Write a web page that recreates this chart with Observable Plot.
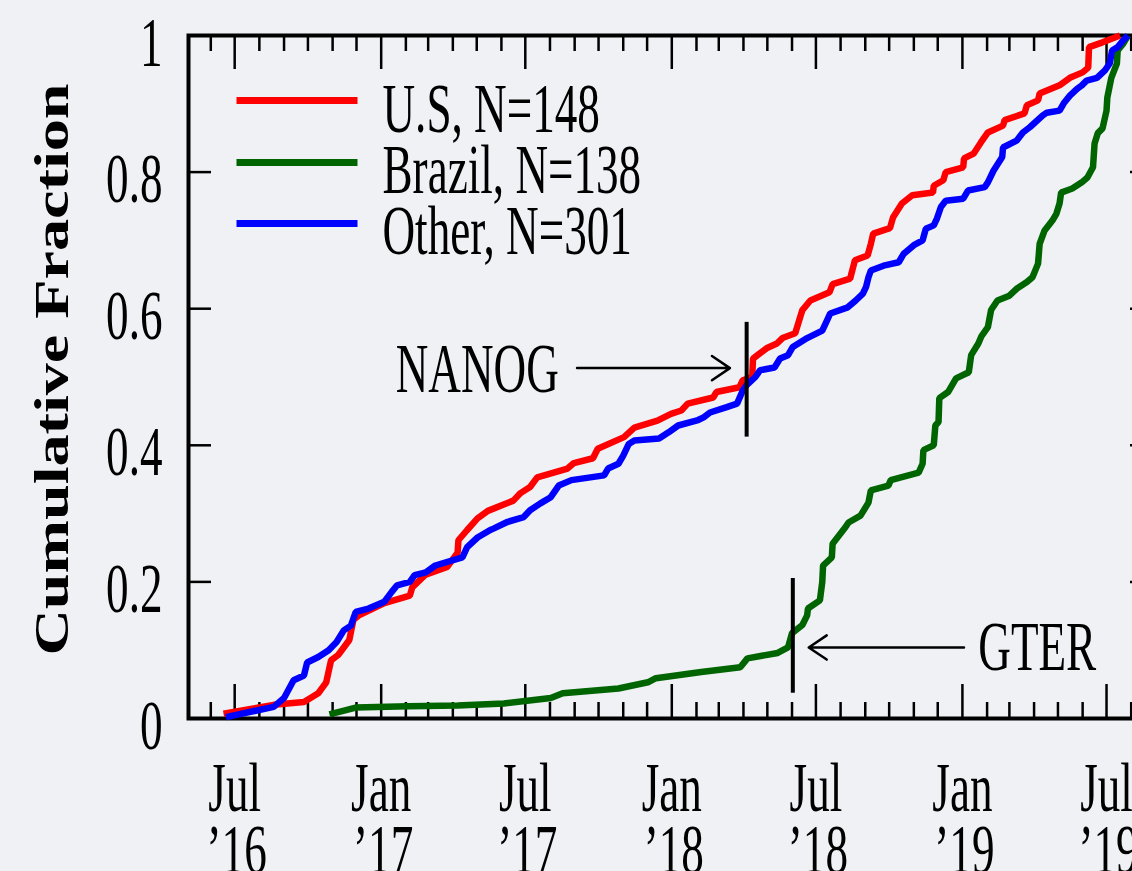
<!DOCTYPE html>
<html>
<head>
<meta charset="utf-8">
<script src="https://cdn.jsdelivr.net/npm/d3@7"></script>
<script src="https://cdn.jsdelivr.net/npm/@observablehq/plot@0.6"></script>
<style>
html, body { margin: 0; padding: 0; background: #eff1f5; overflow: hidden; width: 1132px; height: 871px; }
#chart { width: 1132px; height: 871px; overflow: hidden; }
#chart svg { display: block; max-width: none !important; }
</style>
</head>
<body>
<div id="chart"></div>
<script>
// ---------- data ----------
const seriesNames = ["U.S, N=148", "Brazil, N=138", "Other, N=301"];
const seriesColors = ["#ff0000", "#006400", "#0000ff"];

const usDates = ["2016-06-17","2016-08-19","2016-09-26","2016-10-14","2016-10-24","2016-10-30","2016-11-08","2016-11-22","2016-11-27","2016-12-04","2017-01-05","2017-02-06","2017-02-09","2017-02-25","2017-03-25","2017-04-07","2017-04-08","2017-04-19","2017-05-02","2017-05-15","2017-06-16","2017-06-25","2017-07-07","2017-07-16","2017-08-23","2017-08-31","2017-09-24","2017-09-30","2017-11-02","2017-11-15","2017-12-14","2017-12-31","2018-01-13","2018-01-21","2018-02-22","2018-02-26","2018-03-27","2018-03-31","2018-04-12","2018-04-13","2018-04-22","2018-04-30","2018-05-13","2018-05-20","2018-06-05","2018-06-14","2018-06-24","2018-07-18","2018-07-22","2018-08-13","2018-08-19","2018-09-04","2018-09-08","2018-09-11","2018-10-02","2018-10-06","2018-10-17","2018-10-30","2018-11-25","2018-11-26","2018-12-08","2018-12-11","2019-01-02","2019-01-03","2019-01-15","2019-01-24","2019-02-02","2019-02-21","2019-02-23","2019-03-20","2019-03-23","2019-04-06","2019-04-08","2019-05-03","2019-05-16","2019-06-01","2019-06-08","2019-06-09","2019-06-26","2019-07-18"];
const usValues = [0.007,0.020,0.024,0.037,0.053,0.085,0.093,0.115,0.144,0.151,0.169,0.180,0.192,0.210,0.222,0.243,0.261,0.276,0.293,0.304,0.319,0.330,0.339,0.353,0.366,0.374,0.381,0.395,0.412,0.426,0.436,0.446,0.451,0.461,0.470,0.478,0.485,0.495,0.500,0.527,0.535,0.542,0.549,0.557,0.564,0.598,0.612,0.624,0.636,0.644,0.671,0.678,0.695,0.710,0.718,0.734,0.754,0.766,0.770,0.780,0.788,0.800,0.807,0.820,0.827,0.843,0.858,0.868,0.876,0.886,0.898,0.905,0.915,0.927,0.938,0.946,0.953,0.983,0.990,1.000];

const brazilDates = ["2016-10-28","2016-11-30","2017-02-04","2017-04-07","2017-06-04","2017-08-02","2017-08-17","2017-10-26","2017-12-02","2017-12-12","2018-02-07","2018-03-28","2018-04-06","2018-05-14","2018-05-27","2018-06-01","2018-06-14","2018-06-20","2018-06-21","2018-07-06","2018-07-09","2018-07-10","2018-07-21","2018-07-22","2018-08-07","2018-08-11","2018-08-26","2018-09-05","2018-09-08","2018-09-30","2018-10-03","2018-11-07","2018-11-12","2018-11-13","2018-11-26","2018-11-28","2018-12-02","2018-12-03","2018-12-14","2018-12-24","2019-01-09","2019-01-12","2019-01-21","2019-01-25","2019-02-02","2019-02-06","2019-02-14","2019-03-01","2019-03-11","2019-03-23","2019-03-30","2019-04-06","2019-04-08","2019-04-14","2019-04-24","2019-04-29","2019-05-03","2019-05-05","2019-05-19","2019-05-31","2019-06-07","2019-06-14","2019-06-16","2019-06-20","2019-06-26","2019-07-01","2019-07-02","2019-07-07","2019-07-14","2019-07-15","2019-07-22","2019-07-28"];
const brazilValues = [0.006,0.016,0.018,0.019,0.022,0.030,0.037,0.044,0.053,0.059,0.068,0.075,0.088,0.096,0.104,0.125,0.137,0.151,0.161,0.173,0.200,0.224,0.236,0.256,0.280,0.287,0.297,0.316,0.334,0.341,0.349,0.360,0.373,0.393,0.400,0.429,0.434,0.469,0.478,0.498,0.507,0.532,0.549,0.560,0.573,0.598,0.612,0.619,0.630,0.639,0.646,0.666,0.695,0.714,0.729,0.739,0.754,0.770,0.776,0.785,0.792,0.807,0.842,0.857,0.864,0.890,0.909,0.938,0.959,0.978,0.988,1.000];

const otherDates = ["2016-06-20","2016-08-19","2016-09-01","2016-09-13","2016-09-26","2016-09-30","2016-10-14","2016-10-27","2016-11-06","2016-11-15","2016-11-24","2016-11-30","2016-12-16","2017-01-05","2017-01-14","2017-01-21","2017-02-06","2017-02-12","2017-02-26","2017-03-10","2017-04-13","2017-04-19","2017-05-02","2017-05-18","2017-05-22","2017-06-09","2017-06-29","2017-07-07","2017-07-20","2017-08-02","2017-08-12","2017-08-28","2017-10-08","2017-10-13","2017-10-26","2017-11-01","2017-11-08","2017-11-15","2017-12-16","2017-12-28","2018-01-09","2018-02-03","2018-02-10","2018-02-18","2018-03-11","2018-03-24","2018-03-31","2018-04-05","2018-04-16","2018-04-22","2018-05-10","2018-05-17","2018-05-27","2018-06-02","2018-06-20","2018-07-09","2018-07-15","2018-07-19","2018-08-10","2018-08-20","2018-08-29","2018-09-02","2018-09-05","2018-09-08","2018-09-24","2018-10-13","2018-10-19","2018-11-01","2018-11-12","2018-11-16","2018-11-26","2018-11-30","2018-12-05","2018-12-11","2019-01-02","2019-01-08","2019-01-29","2019-02-02","2019-02-09","2019-02-20","2019-02-21","2019-03-10","2019-03-18","2019-03-27","2019-04-12","2019-04-17","2019-05-03","2019-05-09","2019-05-16","2019-05-25","2019-05-31","2019-06-06","2019-06-19","2019-06-29","2019-07-05","2019-07-08","2019-07-15","2019-07-22","2019-07-28"];
const otherValues = [0.002,0.017,0.030,0.056,0.063,0.082,0.090,0.100,0.112,0.129,0.136,0.156,0.161,0.171,0.185,0.195,0.200,0.210,0.214,0.224,0.236,0.251,0.265,0.276,0.278,0.288,0.295,0.305,0.315,0.324,0.341,0.349,0.356,0.366,0.373,0.385,0.402,0.407,0.410,0.419,0.429,0.437,0.441,0.448,0.456,0.461,0.480,0.488,0.500,0.510,0.514,0.527,0.532,0.544,0.557,0.568,0.583,0.593,0.602,0.612,0.622,0.632,0.646,0.656,0.663,0.668,0.680,0.693,0.700,0.717,0.722,0.732,0.749,0.758,0.761,0.773,0.778,0.785,0.802,0.822,0.836,0.846,0.858,0.866,0.883,0.887,0.890,0.902,0.912,0.922,0.927,0.934,0.938,0.949,0.959,0.978,0.983,0.993,1.000];

// axis ticks / labels
const yTickValues = [0, 0.2, 0.4, 0.6, 0.8, 1];
const yTickLabels = ["0", "0.2", "0.4", "0.6", "0.8", "1"];
const xMajorDates = ["2016-07-01","2017-01-01","2017-07-01","2018-01-01","2018-07-01","2019-01-01","2019-07-01"];
const xLabelMonth = ["Jul","Jan","Jul","Jan","Jul","Jan","Jul"];
const xLabelYear = ["\u201916","\u201917","\u201917","\u201918","\u201918","\u201919","\u201919"];
const yLabel = "Cumulative Fraction";

// annotations
const annotNames = ["NANOG", "GTER"];
const annotDates = ["2018-04-05", "2018-06-02"];
const annotY1 = [0.412, 0.037];
const annotY2 = [0.580, 0.205];
const arrowFrom = ["2017-09-04", "2019-01-03"];
const arrowTo = ["2018-03-15", "2018-06-22"];
const arrowY = [0.513, 0.104];
const annotTextDates = ["2017-08-12", "2019-01-21"];
const annotTextY = [0.4775, 0.0707];
const annotTextAnchor = ["end", "start"];

// ---------- layout ----------
const W = 1154, H = 871, ML = 188, MR = 1, MT = 35, MB = 153;
const X0 = new Date("2016-05-04"), X1 = new Date("2019-08-29");
const FONT = "Liberation Serif, Times New Roman, serif";
const FS = 70;
const xPix = d3.scaleUtc([X0, X1], [ML, W - MR]);
const yPix = d3.scaleLinear([0, 1], [H - MB, MT]);
const dyData = px => px / (H - MB - MT);   // pixel length -> y units

const parse = s => new Date(s);
const rows = [];
[[usDates, usValues], [brazilDates, brazilValues], [otherDates, otherValues]].forEach(([ds, vs], i) => {
  ds.forEach((d, j) => rows.push({series: seriesNames[i], date: parse(d), value: vs[j]}));
});

const majors = xMajorDates.map(parse);
const minors = d3.utcMonth.range(new Date("2016-06-01"), new Date("2019-08-02"))
  .filter(d => d.getUTCMonth() !== 0 && d.getUTCMonth() !== 6);
const majLen = dyData(34), minLen = dyData(16);
const yTickX2 = xPix.invert(ML + 23), yTickRX1 = xPix.invert(W - MR - 23);

const legendLineY = [100, 162, 223].map(p => yPix.invert(p));
const legendTextDy = [96, 157, 218];

const marks = [
  // ticks
  Plot.ruleX(majors, {x: d => d, y1: 0, y2: majLen, stroke: "black", strokeWidth: 2.5}),
  Plot.ruleX(majors, {x: d => d, y1: 1 - majLen, y2: 1, stroke: "black", strokeWidth: 2.5}),
  Plot.ruleX(minors, {x: d => d, y1: 0, y2: minLen, stroke: "black", strokeWidth: 2.5}),
  Plot.ruleX(minors, {x: d => d, y1: 1 - minLen, y2: 1, stroke: "black", strokeWidth: 2.5}),
  Plot.ruleY(yTickValues, {y: d => d, x1: X0, x2: yTickX2, stroke: "black", strokeWidth: 2.5}),
  Plot.ruleY(yTickValues, {y: d => d, x1: yTickRX1, x2: X1, stroke: "black", strokeWidth: 2.5}),
  Plot.frame({stroke: "black", strokeWidth: 4}),
  // tick labels
  Plot.text(yTickValues, {y: d => d, text: (d, i) => yTickLabels[i], frameAnchor: "left", textAnchor: "end",
    lineAnchor: "bottom", dx: -26, dy: 30, fontSize: FS, fontFamily: FONT, fill: "black"}),
  Plot.text(majors, {x: d => d, text: (d, i) => xLabelMonth[i], frameAnchor: "bottom", lineAnchor: "bottom",
    dy: 92, fontSize: FS, fontFamily: FONT, fill: "black"}),
  Plot.text(majors, {x: d => d, text: (d, i) => xLabelYear[i], frameAnchor: "bottom", lineAnchor: "bottom",
    dy: 154, dx: 2, fontSize: FS, fontFamily: FONT, fill: "black"}),
  Plot.text([yLabel], {frameAnchor: "bottom-left", rotate: -90, textAnchor: "start", lineAnchor: "bottom",
    dx: 67 - ML, dy: 655 - (H - MB), fontSize: 48, fontWeight: "bold", fontFamily: FONT, fill: "black"}),
  // series
  Plot.line(rows, {x: "date", y: "value", z: "series",
    stroke: d => seriesColors[seriesNames.indexOf(d.series)], strokeWidth: 6.5,
    strokeLinejoin: "miter", strokeLinecap: "butt"}),
  // legend
  Plot.link(seriesNames, {x1: xPix.invert(236), x2: xPix.invert(357),
    y1: (d, i) => legendLineY[i], y2: (d, i) => legendLineY[i],
    stroke: (d, i) => seriesColors[i], strokeWidth: 7}),
  ...seriesNames.map((name, i) => Plot.text([name], {frameAnchor: "top-left", dx: 382 - ML, dy: legendTextDy[i],
    textAnchor: "start", lineAnchor: "bottom", fontSize: FS, fontFamily: FONT, fill: "black"})),
  // annotations
  Plot.ruleX(annotNames, {x: (d, i) => parse(annotDates[i]), y1: (d, i) => annotY1[i], y2: (d, i) => annotY2[i],
    stroke: "black", strokeWidth: 4}),
  Plot.arrow(annotNames, {x1: (d, i) => parse(arrowFrom[i]), x2: (d, i) => parse(arrowTo[i]),
    y1: (d, i) => arrowY[i], y2: (d, i) => arrowY[i], stroke: "black", strokeWidth: 2.5,
    headLength: 13, headAngle: 68}),
  ...annotNames.map((name, i) => Plot.text([name], {x: parse(annotTextDates[i]), y: annotTextY[i],
    text: d => d, textAnchor: annotTextAnchor[i], lineAnchor: "bottom", fontSize: FS, fontFamily: FONT, fill: "black"}))
];

const svg = Plot.plot({
  width: W, height: H,
  marginLeft: ML, marginRight: MR, marginTop: MT, marginBottom: MB,
  x: {type: "utc", domain: [X0, X1], axis: null},
  y: {domain: [0, 1], axis: null},
  style: {background: "#eff1f5", overflow: "visible"},
  marks
});
svg.style.maxWidth = "none";
svg.style.width = W + "px";
svg.style.height = H + "px";
document.getElementById("chart").appendChild(svg);

// condense the serif text horizontally as in the reference
svg.querySelectorAll("text").forEach(t => {
  if (t.textContent === yLabel) {
    t.setAttribute("textLength", 572);
  } else {
    const L = t.getComputedTextLength();
    t.setAttribute("textLength", (L * 0.645).toFixed(1));
  }
  t.setAttribute("lengthAdjust", "spacingAndGlyphs");
});
</script>
</body>
</html>
